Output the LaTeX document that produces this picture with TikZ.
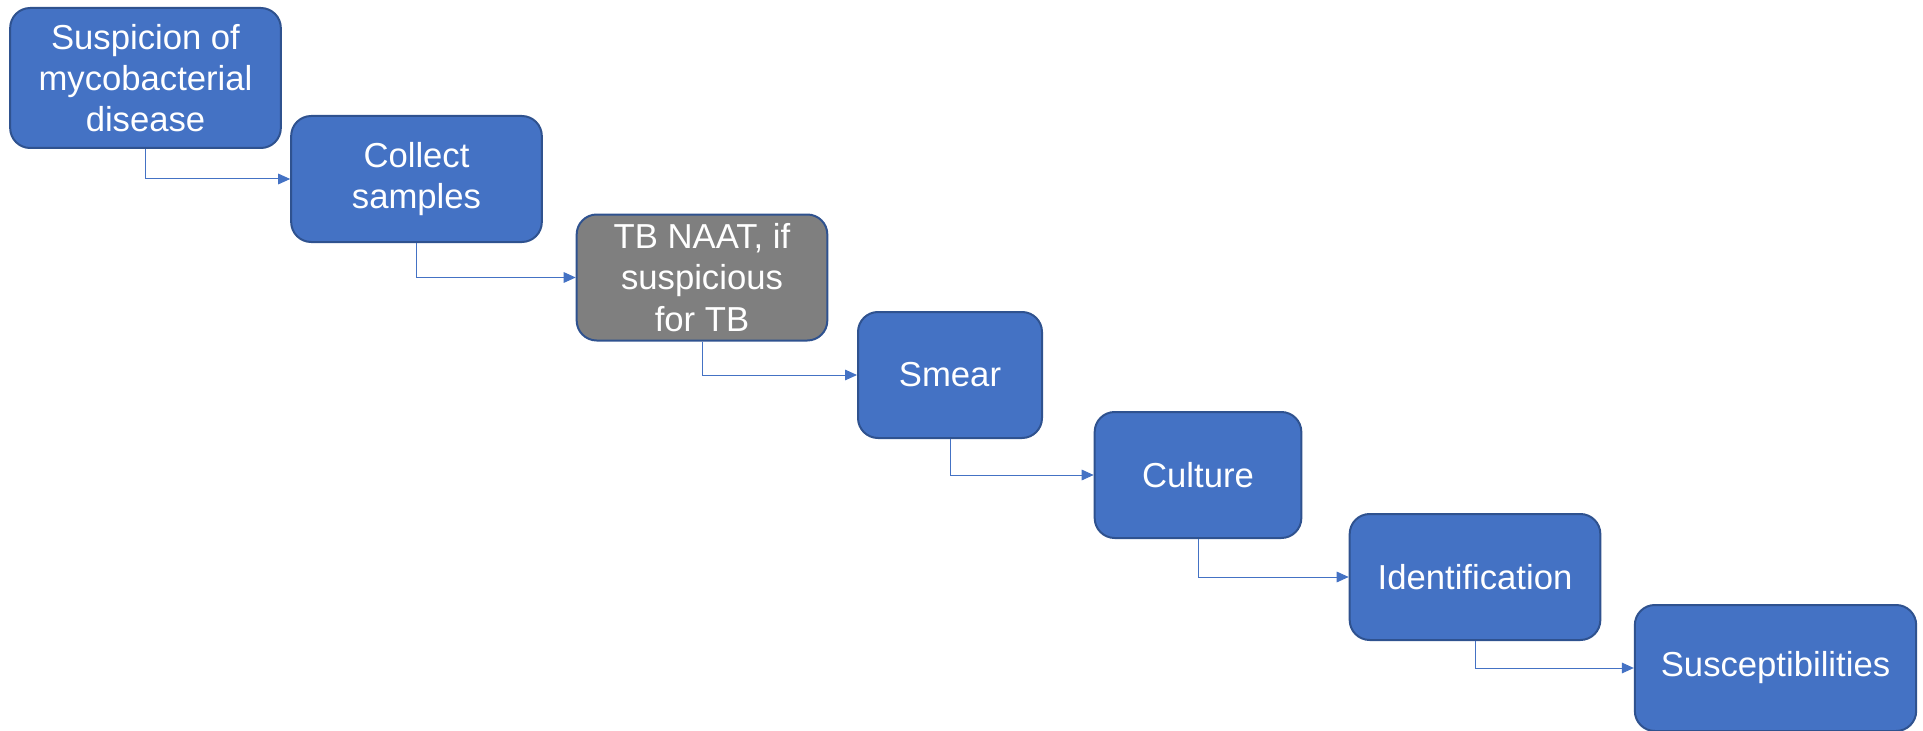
\documentclass[tikz,border=0pt]{standalone}
\usepackage{fontspec}
\setmainfont{Liberation Sans}
\usepackage{xcolor}
\usetikzlibrary{positioning, arrows.meta}

\definecolor{stepblue}{HTML}{4472C4}
\definecolor{stepedge}{HTML}{2F528F}
\definecolor{stepgray}{HTML}{7F7F7F}

\begin{document}
\begin{tikzpicture}[
  x=0.75pt, y=-0.75pt,
  font=\fontsize{26pt}{31pt}\selectfont,
  stepbox/.style={draw=stepedge, line width=1.5pt, rounded corners=15pt,
                  fill=stepblue, text=white, align=center, inner sep=0pt,
                  minimum height=94.5pt},
  optbox/.style={stepbox, fill=stepgray},
  arrow/.style={-{Triangle[length=9pt, width=8pt]}, draw=stepblue, line width=0.75pt}
]

\useasboundingbox (0,0) rectangle (1923,731);

% ── Workflow steps ────────────────────────────────────────
\node[stepbox, minimum width=203pt, minimum height=105pt]
                (suspect) at (145.5,78)  {Suspicion of\\mycobacterial\\disease};
\node[stepbox, minimum width=188pt] (collect) at (416.5,179)  {Collect\\samples};
\node[optbox,  minimum width=188pt] (naat)    at (702,277.5)  {TB NAAT, if\\suspicious\\for TB};
\node[stepbox, minimum width=138pt] (smear)   at (950,375)    {Smear};
\node[stepbox, minimum width=155pt] (culture) at (1198,475)   {Culture};
\node[stepbox, minimum width=188pt] (ident)   at (1475,577)   {Identification};
\node[stepbox, minimum width=211pt] (suscept) at (1775.5,668) {Susceptibilities};

% ── Arrows ────────────────────────────────────────────────
\draw[arrow] (suspect.south) |- (collect.west);
\draw[arrow] (collect.south) |- (naat.west);
\draw[arrow] (naat.south)    |- (smear.west);
\draw[arrow] (smear.south)   |- (culture.west);
\draw[arrow] (culture.south) |- (ident.west);
\draw[arrow] (ident.south)   |- (suscept.west);

\end{tikzpicture}
\end{document}
